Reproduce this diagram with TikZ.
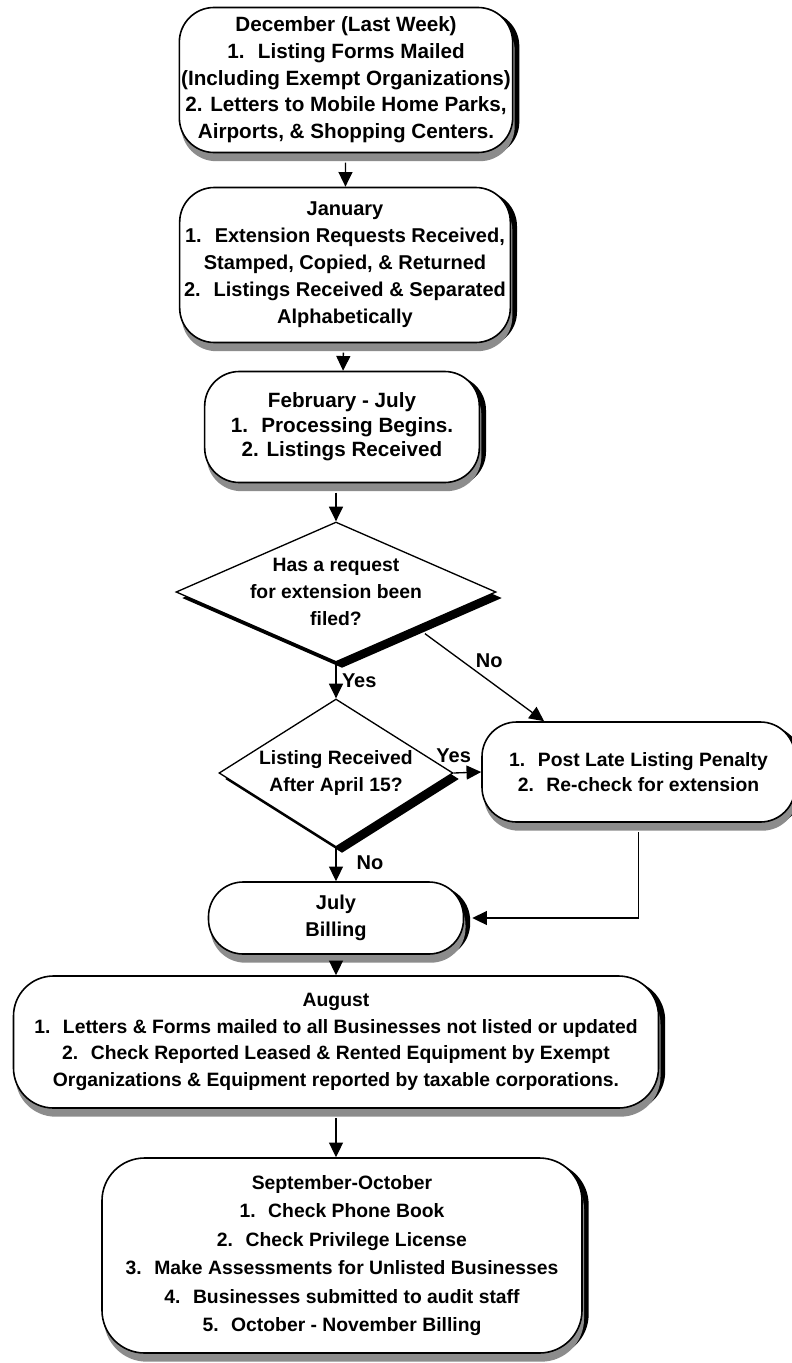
\documentclass[tikz,border=0pt]{standalone}
\usepackage{fontspec}
\setmainfont{Liberation Sans}
\usetikzlibrary{shapes.geometric,shadows,arrows.meta,calc}

\begin{document}
\begin{tikzpicture}
[x=0.75pt,y=-0.75pt,
fs/.style 2 args={font=\bfseries\fontsize{#1}{#2}\selectfont},
fs={15}{20.25},
boxshade/.style={general shadow={fill=black,shadow xshift=5pt,shadow yshift=-3pt},
  general shadow={fill=black!45,shadow xshift=1.5pt,shadow yshift=-6.5pt}},
stage/.style={draw,line width=1.2pt,fill=white,rounded corners=26pt,align=center,inner sep=0pt,boxshade},
query/.style={diamond,draw,line width=1pt,fill=white,inner sep=0pt,
  general shadow={fill=black,shadow xshift=4.5pt,shadow yshift=-4.5pt}},
ask/.style={align=center,inner sep=0pt,fs={14.5}{20}},
flow/.style={line width=1pt,-{Triangle[length=11pt,width=10.5pt]}},
tag/.style={inner sep=1pt}]
\fill[white] (0,0) rectangle (792,1363);
\useasboundingbox (0,0) rectangle (792,1363);
% monthly steps
\node[stage,fs={15.5}{20},minimum width=250pt,minimum height=108.75pt] (dec) at (346,80)
  {December (Last Week)\\1.~ Listing Forms Mailed\\(Including Exempt Organizations)\\2. Letters to Mobile Home Parks,\\Airports, \& Shopping Centers.};
\node[stage,fs={15}{20.25},minimum width=248pt,minimum height=116.25pt] (jan) at (345,265)
  {January\\1.~ Extension Requests Received,\\Stamped, Copied, \& Returned\\2.~ Listings Received \& Separated\\Alphabetically};
\node[stage,fs={15.5}{18.5},minimum width=206pt,minimum height=83.25pt] (feb) at (342,427)
  {February - July\\1.~ Processing Begins.\\2. Listings Received};
% questions
\node[query,minimum width=240pt,minimum height=105pt] (q1) at (336,592) {};
\node[ask] (q1text) at (q1) {Has a request\\for extension been\\filed?};
\node[query,minimum width=175.5pt,minimum height=111pt] (q2) at (336,773) {};
\node[ask] (q2text) at (q2) {Listing Received\\After April 15?};
\node[stage,fs={14.5}{19},minimum width=234.75pt,minimum height=75pt] (pen) at (638.5,772)
  {1.~ Post Late Listing Penalty\\2.~ Re-check for extension};
\node[stage,minimum width=191.25pt,minimum height=54pt] (july) at (336,918)
  {July\\Billing};
\node[stage,fs={14.5}{20},minimum width=483.75pt,minimum height=99pt,rounded corners=30pt] (aug) at (336,1042)
  {August\\1.~ Letters \& Forms mailed to all Businesses not listed or updated\\2.~ Check Reported Leased \& Rented Equipment by Exempt\\Organizations \& Equipment reported by taxable corporations.};
\node[stage,fs={14.5}{21.3},minimum width=360pt,minimum height=146.25pt,rounded corners=32pt] (sept) at (342,1255.5)
  {September-October\\1.~ Check Phone Book\\2.~ Check Privilege License\\3.~ Make Assessments for Unlisted Businesses\\4.~ Businesses submitted to audit staff\\5.~ October - November Billing};
% connectors
\draw[flow,shorten <=7pt] (dec) -- (jan);
\draw[flow,shorten <=7pt] (jan) -- (feb);
\draw[flow,shorten <=7pt] (feb.south -| q1.north) -- (q1.north);
\draw[flow] (q1.south) -- node[tag,right=3pt]{Yes} (q2.north);
\draw[flow,shorten <=8pt] (q1.south east) -- node[tag,above right,pos=.45]{No}
  ($(pen.north west)!.2!(pen.north east)$);
\draw[flow] (q2.east) -- node[tag,above=6pt,pos=0]{Yes} (pen.west);
\draw[flow] (q2.south) -- node[tag,right=14pt,pos=.45]{No} (july.north);
\draw[flow,shorten <=7pt,shorten >=6pt] (pen.south) |- (july.east);
\draw[flow,shorten <=7pt] (july) -- (aug);
\draw[flow,shorten <=7pt] (aug.south) -- (aug.south |- sept.north);
\end{tikzpicture}
\end{document}
